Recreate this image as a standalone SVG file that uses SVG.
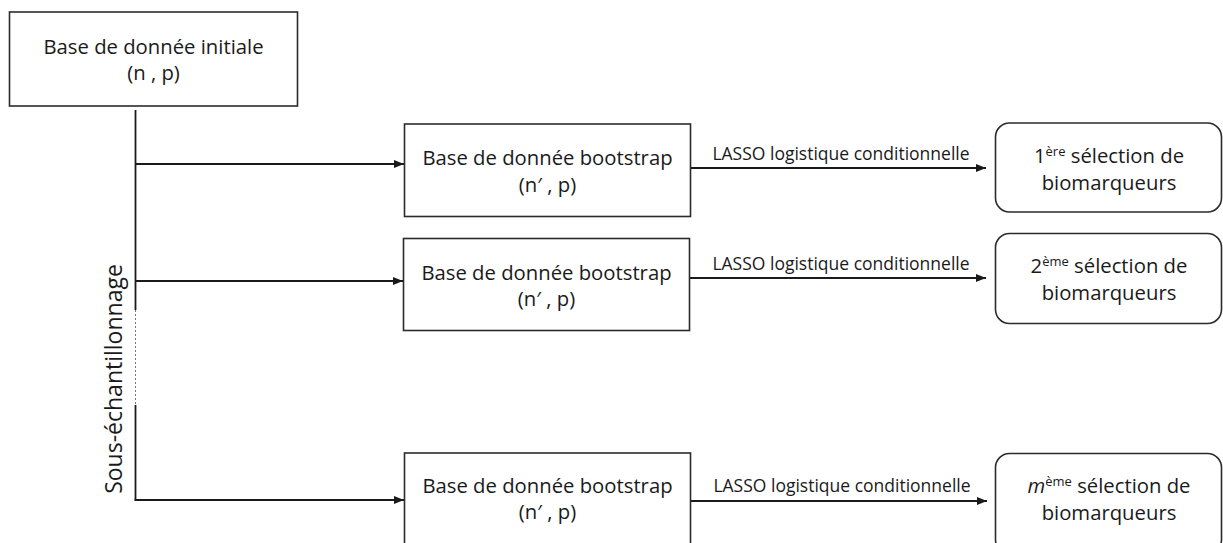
<svg xmlns="http://www.w3.org/2000/svg" width="1223" height="543" viewBox="0 0 1223 543">
<style>
text{font-family:"Open Sans","Noto Sans","DejaVu Sans",sans-serif;fill:#1a1a1a;text-anchor:middle}
.t{font-size:20.3px}
.l{font-size:17.5px}
.s{font-size:23px}
.sup{font-size:13px}
.box{fill:#fff;stroke:#2b2b2b;stroke-width:1.6}
.ln{fill:none;stroke:#1a1a1a;stroke-width:1.8}
</style>
<defs>
<marker id="ah" markerUnits="userSpaceOnUse" markerWidth="11" markerHeight="8" refX="10" refY="4" orient="auto">
<path d="M0,0 L10,4 L0,8 z" fill="#1a1a1a"/>
</marker>
</defs>
<rect width="1223" height="543" fill="#fff"/>
<g id="connectors">
<line class="ln" x1="135.5" y1="110" x2="135.5" y2="310"/>
<line x1="135.5" y1="310" x2="135.5" y2="405" stroke="#777" stroke-width="1" stroke-dasharray="2 2"/>
<line class="ln" x1="135.5" y1="405" x2="135.5" y2="500.5"/>
<line class="ln" x1="135.5" y1="164" x2="404" y2="164" marker-end="url(#ah)"/>
<line class="ln" x1="135.5" y1="281" x2="403" y2="281" marker-end="url(#ah)"/>
<line class="ln" x1="134.6" y1="500" x2="404" y2="500" marker-end="url(#ah)"/>
<line class="ln" x1="690.5" y1="168" x2="986" y2="168" marker-end="url(#ah)"/>
<line class="ln" x1="690" y1="278" x2="986" y2="278" marker-end="url(#ah)"/>
<line class="ln" x1="690.5" y1="501" x2="987" y2="501" marker-end="url(#ah)"/>
<text class="l" x="841" y="160">LASSO logistique conditionnelle</text>
<text class="l" x="841" y="270">LASSO logistique conditionnelle</text>
<text class="l" x="842" y="492">LASSO logistique conditionnelle</text>
<text class="s" transform="translate(121.5,379) rotate(-90)">Sous-échantillonnage</text>
</g>
<g id="initial">
<rect class="box" x="9.5" y="12" width="288" height="94"/>
<text class="t" x="153.5" y="54">Base de donnée initiale</text>
<text class="t" x="153.5" y="80">(n , p)</text>
</g>
<g id="boot1">
<rect class="box" x="404.5" y="124" width="286" height="92.5"/>
<text class="t" x="547.5" y="165">Base de donnée bootstrap</text>
<text class="t" x="547.5" y="191.5">(n′ , p)</text>
</g>
<g id="boot2">
<rect class="box" x="403.5" y="238.5" width="286" height="92"/>
<text class="t" x="546.5" y="280">Base de donnée bootstrap</text>
<text class="t" x="546.5" y="306">(n′ , p)</text>
</g>
<g id="boot3">
<rect class="box" x="404.5" y="453" width="286" height="100"/>
<text class="t" x="547.5" y="493">Base de donnée bootstrap</text>
<text class="t" x="547.5" y="519">(n′ , p)</text>
</g>
<g id="sel1">
<rect class="box" x="995.5" y="123" width="226" height="89" rx="14"/>
<text class="t" x="1109" y="163">1<tspan class="sup" dy="-7">ère</tspan><tspan dy="7"> sélection de</tspan></text>
<text class="t" x="1109" y="190">biomarqueurs</text>
</g>
<g id="sel2">
<rect class="box" x="995.5" y="233.5" width="226" height="90" rx="14"/>
<text class="t" x="1109" y="273">2<tspan class="sup" dy="-7">ème</tspan><tspan dy="7"> sélection de</tspan></text>
<text class="t" x="1109" y="300">biomarqueurs</text>
</g>
<g id="sel3">
<rect class="box" x="995.5" y="453.5" width="226" height="100" rx="14"/>
<text class="t" x="1109" y="493"><tspan font-style="italic">m</tspan><tspan class="sup" dy="-7">ème</tspan><tspan dy="7"> sélection de</tspan></text>
<text class="t" x="1109" y="520">biomarqueurs</text>
</g>
</svg>
